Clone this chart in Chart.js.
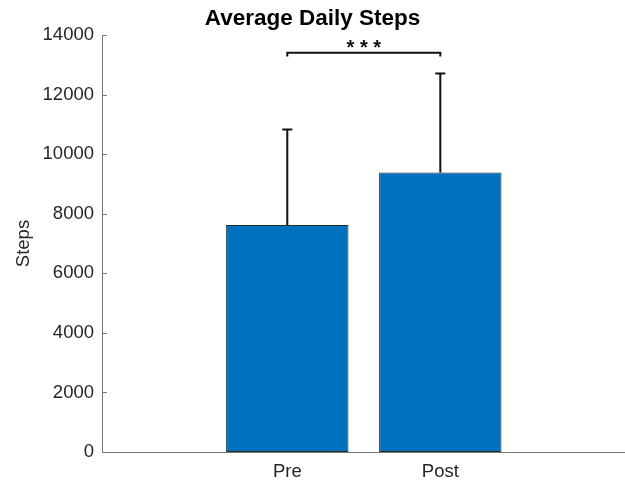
<!DOCTYPE html>
<html>
<head>
<meta charset="utf-8">
<script src="https://cdn.jsdelivr.net/npm/chart.js@4"></script>
<style>
  html, body { margin: 0; padding: 0; background: #fff; }
  #wrap { width: 625px; height: 484px; }
</style>
</head>
<body>
<div id="wrap"><canvas id="stepsChart" width="625" height="484"></canvas></div>
<script>
// values
const categories = ['Pre', 'Post'];
const meanSteps = [7620, 9380];
const sdSteps = [3210, 3330];       // upper error bar length
const yTicks = [0, 2000, 4000, 6000, 8000, 10000, 12000, 14000];
const sigLabel = '* * *';
const sigBar = 13400;   // height of the bracket
const sigTip = 13280;   // where the bracket ends drop to

const FONT = "'Liberation Sans', Arial, sans-serif";

// error bars + significance bracket, drawn through the chart scales
const extrasPlugin = {
    id: 'extras',
    afterDatasetsDraw(chart) {
        const ctx = chart.ctx;
        const xs = chart.scales.x, ys = chart.scales.y;
        ctx.save();
        ctx.strokeStyle = '#111';
        ctx.lineWidth = 2;
        categories.forEach((c, i) => {
            const x = xs.getPixelForValue(i + 1);
            const y0 = ys.getPixelForValue(meanSteps[i]);
            const y1 = ys.getPixelForValue(meanSteps[i] + sdSteps[i]);
            ctx.beginPath();
            ctx.moveTo(x, y0); ctx.lineTo(x, y1);
            ctx.moveTo(x - 5, y1); ctx.lineTo(x + 5, y1);
            ctx.stroke();
        });
        // bracket
        const xa = xs.getPixelForValue(1), xb = xs.getPixelForValue(2);
        const yb = ys.getPixelForValue(sigBar), yt = ys.getPixelForValue(sigTip);
        ctx.beginPath();
        ctx.moveTo(xa, yt); ctx.lineTo(xa, yb); ctx.lineTo(xb, yb); ctx.lineTo(xb, yt);
        ctx.stroke();
        ctx.fillStyle = '#111';
        ctx.font = 'bold 20px ' + FONT;
        ctx.textAlign = 'center';
        ctx.textBaseline = 'alphabetic';
        ctx.fillText(sigLabel, (xa + xb) / 2, yb + 1.5);
        // inward y tick marks (matlab style)
        ctx.strokeStyle = '#777';
        ctx.lineWidth = 1;
        yTicks.forEach(v => {
            const y = Math.round(ys.getPixelForValue(v)) + 0.5;
            ctx.beginPath();
            ctx.moveTo(ys.right, y); ctx.lineTo(ys.right + 5, y);
            ctx.stroke();
        });
        ctx.restore();
    }
};

const ctxSteps = document.getElementById('stepsChart').getContext('2d');

let stepsChart = new Chart(ctxSteps, {
    type: 'bar',
    data: {
        datasets: [{
            data: categories.map((c, i) => ({ x: i + 1, y: meanSteps[i] })),
            backgroundColor: '#0072BD',
            borderColor: '#2a2a2a',
            borderWidth: 1,
            borderSkipped: false,
            categoryPercentage: 1,
            barPercentage: 0.8
        }]
    },
    options: {
        responsive: false,
        animation: false,
        layout: { padding: 0 },
        plugins: {
            legend: { display: false },
            tooltip: { enabled: false },
            title: {
                display: true,
                text: 'Average Daily Steps',
                color: '#000',
                font: { family: FONT, size: 22.5, weight: 'bold' },
                padding: { top: 5, bottom: 3 }
            }
        },
        scales: {
            x: {
                type: 'linear',
                offset: false,
                min: -0.211,
                max: 3.207,
                afterBuildTicks: (scale) => {
                    scale.ticks = categories.map((c, i) => ({ value: i + 1 }));
                },
                afterFit: (scale) => { scale.height = 32; },
                ticks: {
                    autoSkip: false,
                    maxRotation: 0,
                    padding: 9,
                    color: '#262626',
                    font: { family: FONT, size: 18.5 },
                    callback: (v) => categories[v - 1]
                },
                grid: { display: false, drawTicks: false, offset: false },
                border: { display: true, color: '#777', width: 1 }
            },
            y: {
                min: 0,
                max: 14000,
                afterBuildTicks: (scale) => {
                    scale.ticks = yTicks.map(v => ({ value: v }));
                },
                afterFit: (scale) => { scale.width = 102; },
                ticks: {
                    padding: 8,
                    color: '#262626',
                    font: { family: FONT, size: 18.5 },
                    callback: (v) => String(v)
                },
                title: {
                    display: true,
                    text: 'Steps',
                    color: '#262626',
                    font: { family: FONT, size: 18.5 },
                    padding: { top: 13, bottom: 0 }
                },
                grid: { display: false, drawTicks: false },
                border: { display: true, color: '#777', width: 1 }
            }
        }
    },
    plugins: [extrasPlugin]
});
</script>
</body>
</html>
